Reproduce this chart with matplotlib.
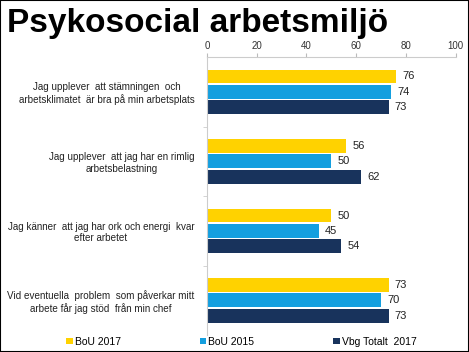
import matplotlib.pyplot as plt
import numpy as np

plt.rcParams['font.family'] = ['Liberation Sans', 'DejaVu Sans']

categories = [
    "Jag upplever  att stämningen  och\narbetsklimatet  är bra på min arbetsplats",
    "Jag upplever  att jag har en rimlig\narbetsbelastning",
    "Jag känner  att jag har ork och energi  kvar\nefter arbetet",
    "Vid eventuella  problem  som påverkar mitt\narbete får jag stöd  från min chef",
]
series = ["BoU 2017", "BoU 2015", "Vbg Totalt  2017"]
bou_2017 = [76, 56, 50, 73]
bou_2015 = [74, 50, 45, 70]
vbg_2017 = [73, 62, 54, 73]
colors = ["#FFD200", "#149FDF", "#18335C"]

fig = plt.figure(figsize=(4.69, 3.52), dpi=100)
ax = fig.add_axes([0.441, 0.048, 0.531, 0.79])

y = np.arange(len(categories))
h = 0.2
offs = [-0.22, 0.0, 0.22]
for vals, off, c, name in zip([bou_2017, bou_2015, vbg_2017], offs, colors, series):
    bars = ax.barh(y + off, vals, height=h, color=c, label=name)
    for b, v in zip(bars, vals):
        ax.text(b.get_width() + 2.5, b.get_y() + b.get_height() / 2, str(v),
                va='center', ha='left', fontsize=8, color='#222222')

ax.set_xlim(0, 100)
ax.set_ylim(3.5, -0.5)
ax.xaxis.tick_top()
ax.set_xticks(range(0, 101, 20))
ax.tick_params(axis='x', labelsize=7, colors='#333333', length=3, color='#bbbbbb', pad=1.5)
ax.set_yticks(y)
ax.set_yticklabels(categories, fontsize=7.1, color='#222222', multialignment='center')
ax.tick_params(axis='y', length=0, pad=9)
ax.set_yticks([0.5, 1.5, 2.5], minor=True)
ax.tick_params(axis='y', which='minor', length=3, color='#cccccc')
for s in ['right', 'bottom']:
    ax.spines[s].set_visible(False)
for s in ['top', 'left']:
    ax.spines[s].set_color('#cccccc')
    ax.spines[s].set_linewidth(0.8)

fig.text(0.015, 0.978, "Psykosocial arbetsmiljö", fontsize=24, fontweight='bold', va='top')

handles, labels = ax.get_legend_handles_labels()
fig.legend(handles, labels, loc='lower center', bbox_to_anchor=(0.515, -0.012), ncol=3,
           frameon=False, fontsize=7.5, handlelength=0.6, handleheight=0.6,
           handletextpad=0.2, columnspacing=7.6)

fig.patches.append(plt.Rectangle((0, 0), 1, 1, transform=fig.transFigure,
                                 fill=False, edgecolor='black', linewidth=1.5))

fig.savefig("out.png", dpi=100)
